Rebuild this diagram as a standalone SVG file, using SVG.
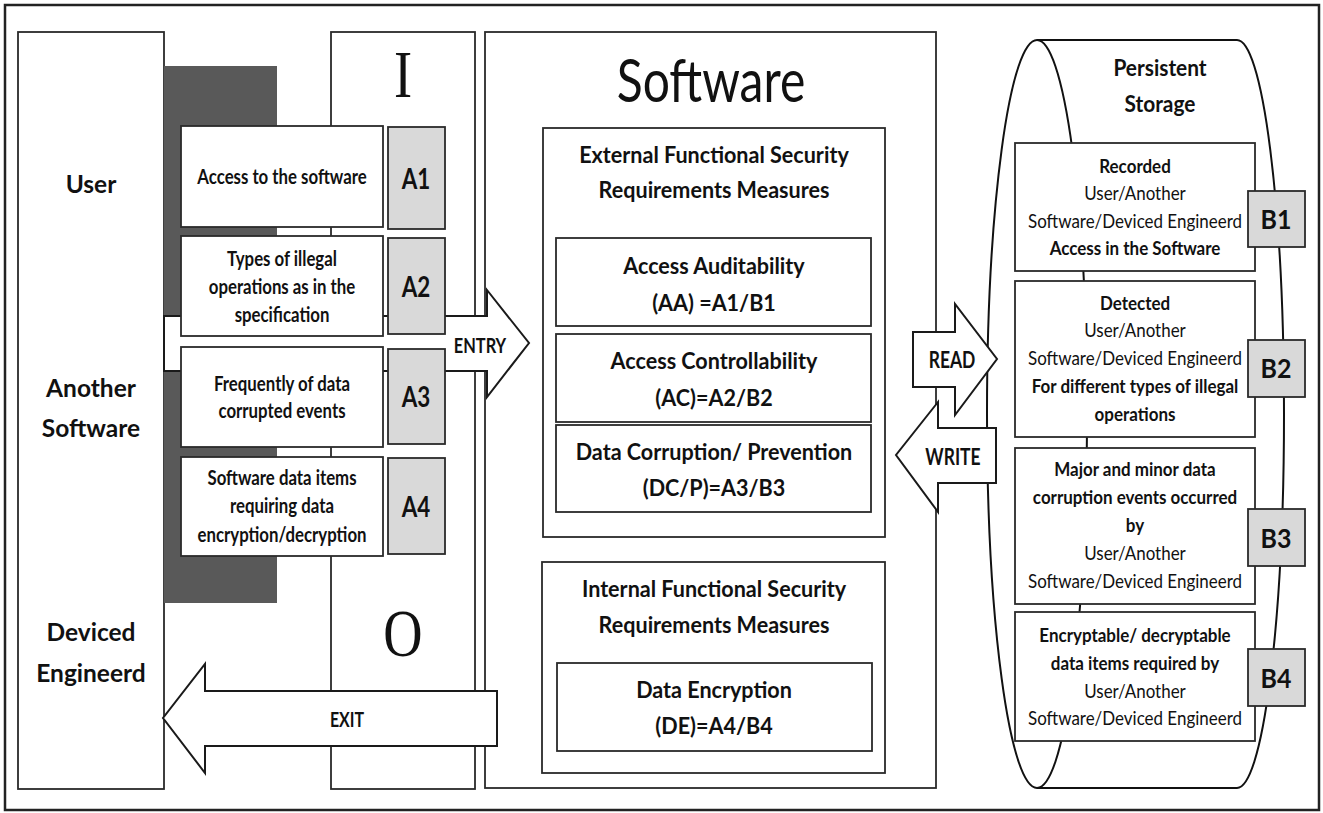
<svg xmlns="http://www.w3.org/2000/svg" width="1323" height="813" viewBox="0 0 1323 813">
<style>
.box{fill:#fff;stroke:#2a2a2a;stroke-width:1.8}
.lbl{fill:#d9d9d9;stroke:#2a2a2a;stroke-width:1.8}
.arrow{fill:#fff;stroke:#1a1a1a;stroke-width:2}
.ln{fill:none;stroke:#111;stroke-width:2}
.t{font-family:Lato,"Liberation Sans",sans-serif;fill:#111;text-anchor:middle}
.b{font-weight:700}
.m{font-weight:700}
.serif{font-family:"Liberation Serif",serif;fill:#111;text-anchor:middle}
.s25{font-size:25px}
.s21{font-size:21px}
.s28{font-size:28px}
.s22{font-size:22px}
.s195{font-size:19.5px}
.s26{font-size:26px}
</style>
<rect x="0" y="0" width="1323" height="813" fill="#fff"/>
<rect x="5" y="5" width="1314" height="805" fill="#fff" stroke="#222" stroke-width="2.5"/>

<g id="actors">
<rect class="box" x="18" y="32" width="146" height="757"/>
<text class="t b s25" transform="translate(91,0) scale(.98,1)"><tspan x="0" y="193">User</tspan></text>
<text class="t b s25" transform="translate(91,0) scale(.98,1)"><tspan x="0" y="397">Another</tspan><tspan x="0" y="437">Software</tspan></text>
<text class="t b s25" transform="translate(91,0) scale(.98,1)"><tspan x="0" y="641">Deviced</tspan><tspan x="0" y="682">Engineerd</tspan></text>
</g>

<g id="shadow">
<rect x="164" y="66" width="113" height="537" fill="#595959"/>
</g>

<g id="io-column">
<rect class="box" x="331" y="32" width="144" height="757"/>
<text class="serif" font-size="68" transform="translate(403,97) scale(.8,1)">I</text>
<text class="serif" font-size="68" transform="translate(403,656) scale(.8,1)">O</text>
</g>

<g id="software">
<rect class="box" x="485" y="32" width="451" height="756"/>
<text class="t" font-size="60" transform="translate(711,102) scale(.8,1)">Software</text>
</g>

<g id="connectors">
<g id="entry">
<polygon class="arrow" points="164,316 487,316 487,290 529,343 487,397 487,371 164,371"/>
<text class="t m" font-size="20" transform="translate(480,353) scale(.82,1)">ENTRY</text>
</g>
</g>

<g id="inputs">
<g id="in-a1">
<rect class="box" x="181" y="126" width="202" height="101"/>
<text class="t b s21" transform="translate(282,0) scale(.8,1)"><tspan x="0" y="184">Access to the software</tspan></text>
<rect class="lbl" x="388" y="127" width="57" height="102"/>
<text class="t b s28" transform="translate(416,189) scale(.8,1)">A1</text>
</g>
<g id="in-a2">
<rect class="box" x="181" y="236" width="202" height="100"/>
<text class="t b s21" transform="translate(282,0) scale(.8,1)"><tspan x="0" y="266">Types of illegal</tspan><tspan x="0" y="294">operations as in the</tspan><tspan x="0" y="322">specification</tspan></text>
<rect class="lbl" x="388" y="238" width="57" height="96"/>
<text class="t b s28" transform="translate(416,297) scale(.8,1)">A2</text>
</g>
<g id="in-a3">
<rect class="box" x="181" y="347" width="202" height="100"/>
<text class="t b s21" transform="translate(282,0) scale(.8,1)"><tspan x="0" y="391">Frequently of data</tspan><tspan x="0" y="418">corrupted events</tspan></text>
<rect class="lbl" x="388" y="349" width="57" height="95"/>
<text class="t b s28" transform="translate(416,407) scale(.8,1)">A3</text>
</g>
<g id="in-a4">
<rect class="box" x="181" y="457" width="202" height="99"/>
<text class="t b s21" transform="translate(282,0) scale(.8,1)"><tspan x="0" y="485">Software data items</tspan><tspan x="0" y="513">requiring data</tspan><tspan x="0" y="542">encryption/decryption</tspan></text>
<rect class="lbl" x="388" y="458" width="57" height="96"/>
<text class="t b s28" transform="translate(416,517) scale(.8,1)">A4</text>
</g>
</g>

<g id="exit">
<polygon class="arrow" points="497,691 205,691 205,664 163,718 205,773 205,746 497,746"/>
<text class="t m" font-size="21" transform="translate(347,727) scale(.76,1)">EXIT</text>
</g>

<g id="external">
<rect class="box" x="543" y="128" width="342" height="409"/>
<text class="t b s22" transform="translate(714,0) scale(.98,1)"><tspan x="0" y="163">External Functional Security</tspan><tspan x="0" y="198">Requirements Measures</tspan></text>
<g id="aa">
<rect class="box" x="556" y="238" width="315" height="88"/>
<text class="t b s22" transform="translate(714,0) scale(.98,1)"><tspan x="0" y="274">Access Auditability</tspan><tspan x="0" y="311">(AA) =A1/B1</tspan></text>
</g>
<g id="ac">
<rect class="box" x="556" y="334" width="315" height="88"/>
<text class="t b s22" transform="translate(714,0) scale(.98,1)"><tspan x="0" y="369">Access Controllability</tspan><tspan x="0" y="406">(AC)=A2/B2</tspan></text>
</g>
<g id="dcp">
<rect class="box" x="556" y="425" width="315" height="87"/>
<text class="t b s22" transform="translate(714,0) scale(.98,1)"><tspan x="0" y="460">Data Corruption/ Prevention</tspan><tspan x="0" y="496">(DC/P)=A3/B3</tspan></text>
</g>
</g>

<g id="internal">
<rect class="box" x="542" y="562" width="343" height="211"/>
<text class="t b s22" transform="translate(714,0) scale(.98,1)"><tspan x="0" y="597">Internal Functional Security</tspan><tspan x="0" y="633">Requirements Measures</tspan></text>
<g id="de">
<rect class="box" x="557" y="663" width="315" height="88"/>
<text class="t b s22" transform="translate(714,0) scale(.98,1)"><tspan x="0" y="698">Data Encryption</tspan><tspan x="0" y="734">(DE)=A4/B4</tspan></text>
</g>
</g>

<g id="storage">
<path d="M1037,40 L1237,40 A47,374 0 0 1 1237,788 L1037,788 A50,374 0 0 1 1037,40 Z" fill="#fff" stroke="#111" stroke-width="2"/>
<path class="ln" d="M1037,40 A50,374 0 0 1 1037,788"/>
<text class="t b s22" transform="translate(1160,0) scale(.95,1)"><tspan x="0" y="76">Persistent</tspan><tspan x="0" y="112">Storage</tspan></text>
</g>

<g id="read-write">
<g id="read">
<polygon class="arrow" points="913,332 955,332 955,304 997,359 955,415 955,387 913,387"/>
<text class="t m" font-size="23" transform="translate(952,368) scale(.76,1)">READ</text>
</g>
<g id="write">
<polygon class="arrow" points="996,428 938,428 938,402 896,455 938,512 938,483 996,483"/>
<text class="t m" font-size="23" transform="translate(953,465) scale(.76,1)">WRITE</text>
</g>
</g>

<g id="outputs">
<g id="out-b1">
<rect class="box" x="1015" y="143" width="240" height="128"/>
<text class="t s195" transform="translate(1135,0) scale(.87,1)"><tspan class="b" x="0" y="173">Recorded</tspan><tspan x="0" y="200">User/Another</tspan><tspan x="0" y="228">Software/Deviced Engineerd</tspan><tspan class="b" x="0" y="255">Access in the Software</tspan></text>
<rect class="lbl" x="1248" y="191" width="57" height="56"/>
<text class="t b s26" transform="translate(1276,229) scale(.96,1)">B1</text>
</g>
<g id="out-b2">
<rect class="box" x="1015" y="281" width="240" height="156"/>
<text class="t s195" transform="translate(1135,0) scale(.87,1)"><tspan class="b" x="0" y="310">Detected</tspan><tspan x="0" y="337">User/Another</tspan><tspan x="0" y="365">Software/Deviced Engineerd</tspan><tspan class="b" x="0" y="393">For different types of illegal</tspan><tspan class="b" x="0" y="421">operations</tspan></text>
<rect class="lbl" x="1248" y="340" width="57" height="57"/>
<text class="t b s26" transform="translate(1276,378) scale(.96,1)">B2</text>
</g>
<g id="out-b3">
<rect class="box" x="1015" y="448" width="240" height="156"/>
<text class="t s195" transform="translate(1135,0) scale(.87,1)"><tspan class="b" x="0" y="476">Major and minor data</tspan><tspan class="b" x="0" y="504">corruption events occurred</tspan><tspan class="b" x="0" y="532">by</tspan><tspan x="0" y="560">User/Another</tspan><tspan x="0" y="588">Software/Deviced Engineerd</tspan></text>
<rect class="lbl" x="1248" y="509" width="57" height="57"/>
<text class="t b s26" transform="translate(1276,548) scale(.96,1)">B3</text>
</g>
<g id="out-b4">
<rect class="box" x="1015" y="612" width="240" height="129"/>
<text class="t s195" transform="translate(1135,0) scale(.87,1)"><tspan class="b" x="0" y="642">Encryptable/ decryptable</tspan><tspan class="b" x="0" y="670">data items required by</tspan><tspan x="0" y="698">User/Another</tspan><tspan x="0" y="725">Software/Deviced Engineerd</tspan></text>
<rect class="lbl" x="1248" y="649" width="57" height="57"/>
<text class="t b s26" transform="translate(1276,688) scale(.96,1)">B4</text>
</g>
</g>
</svg>
